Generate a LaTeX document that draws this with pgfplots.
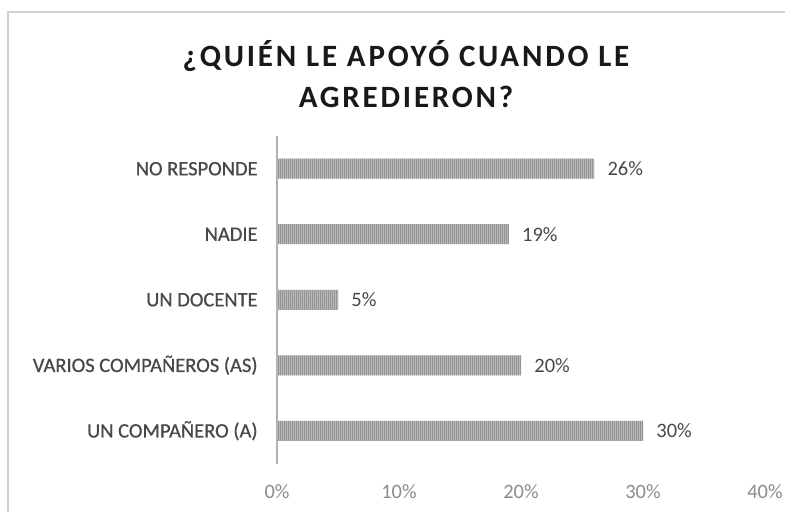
\documentclass[border=0pt]{standalone}
\usepackage{fontspec}
\setmainfont{Carlito}
\newfontfamily\titlefont[LetterSpace=9]{Carlito}
\newfontfamily\labfont[FakeBold=0.6]{Carlito}
\usepackage{pgfplots}
\usepackage{pgfplotstable}
\pgfplotsset{compat=1.18}
\usetikzlibrary{patterns}
\pgfdeclarepatternformonly{finevert}{\pgfqpoint{-0.1pt}{-0.1pt}}{\pgfqpoint{4.1pt}{4.1pt}}{\pgfqpoint{4pt}{4pt}}{%
  \pgfsetlinewidth{0.5pt}%
  \pgfpathmoveto{\pgfqpoint{0.4pt}{-0.1pt}}\pgfpathlineto{\pgfqpoint{0.4pt}{4.1pt}}%
  \pgfpathmoveto{\pgfqpoint{1.3pt}{-0.1pt}}\pgfpathlineto{\pgfqpoint{1.3pt}{4.1pt}}%
  \pgfpathmoveto{\pgfqpoint{2.4pt}{-0.1pt}}\pgfpathlineto{\pgfqpoint{2.4pt}{4.1pt}}%
  \pgfpathmoveto{\pgfqpoint{3.3pt}{-0.1pt}}\pgfpathlineto{\pgfqpoint{3.3pt}{4.1pt}}%
  \pgfusepath{stroke}}
\definecolor{lab}{HTML}{484848}
\definecolor{tick}{HTML}{8C8C8C}
\pgfplotstableread{
y x
0 30
1 20
2 5
3 19
4 26
}\datatable
\begin{document}
\begin{tikzpicture}
\useasboundingbox (0,0) rectangle (392.5pt,-256pt);
\fill[white] (0,0) rectangle (392.5pt,-256pt);
\draw[black!18, line width=1pt] (4pt,-260pt) -- (4pt,-6pt) -- (400pt,-6pt);
\node[font=\titlefont\bfseries\fontsize{15.5}{20.5}\selectfont, align=center, text=black!90] at (203pt,-37pt) {¿QUIÉN LE APOYÓ CUANDO LE\\AGREDIERON?};
\begin{axis}[
  at={(138.5pt,-231.75pt)}, anchor=south west,
  scale only axis, width=244pt, height=163.75pt,
  xbar, bar width=10pt,
  xmin=0, xmax=40, ymin=-0.5, ymax=4.5,
  axis lines*=left,
  x axis line style={draw=none},
  y axis line style={draw=black!30, line width=1pt},
  xtick={0,10,20,30,40},
  xticklabel={\pgfmathprintnumber{\tick}\%},
  /pgf/number format/assume math mode=true,
  xticklabel style={font=\fontsize{10.2}{12}\selectfont, text=tick, yshift=-7pt},
  ytick={0,1,2,3,4},
  yticklabels={UN COMPAÑERO (A), VARIOS COMPAÑEROS (AS), UN DOCENTE, NADIE, NO RESPONDE},
  yticklabel style={font=\labfont\fontsize{10.25}{12}\selectfont, text=lab, inner sep=0pt, xshift=-9.5pt},
  major tick length=0pt,
  tick style={draw=none},
  nodes near coords={\pgfmathprintnumber{\pgfplotspointmeta}\%},
  point meta=x,
  nodes near coords style={font=\fontsize{10.25}{12}\selectfont, text=lab, anchor=west, inner sep=0pt, xshift=6.5pt},
]
\addplot[fill=black!28, draw=none, postaction={pattern=finevert, pattern color=black!42}] table[x=x,y=y]{\datatable};
\end{axis}
\end{tikzpicture}
\end{document}
